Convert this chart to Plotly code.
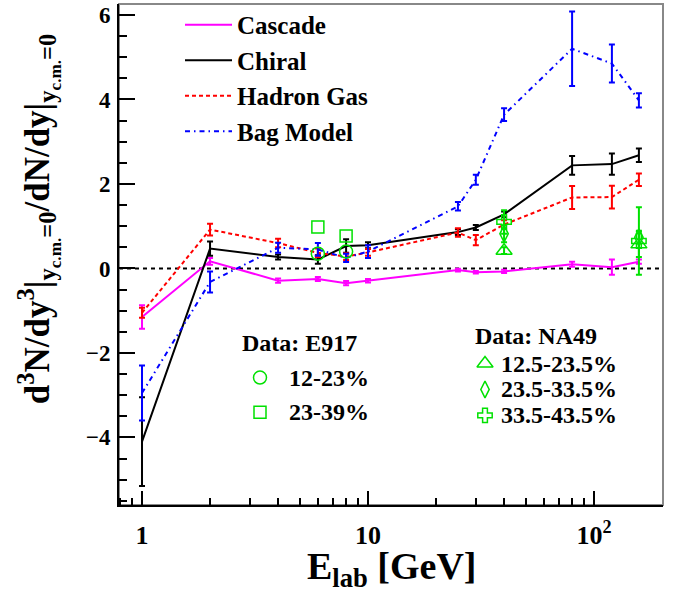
import plotly.graph_objects as go

# ---------------- data ----------------
energy = [1, 2, 4, 6, 8, 10, 25, 30, 40, 80, 120, 158]

cascade = [-1.15, 0.17, -0.29, -0.25, -0.35, -0.29, -0.04, -0.09, -0.07, 0.10, 0.03, 0.16]
cascade_err = [0.28, 0.08, 0.05, 0.05, 0.05, 0.04, 0.03, 0.03, 0.04, 0.06, 0.18, 0.05]

chiral = [-4.10, 0.47, 0.27, 0.21, 0.53, 0.55, 0.86, 0.97, 1.28, 2.44, 2.47, 2.68]
chiral_err = [1.05, 0.17, 0.06, 0.10, 0.16, 0.07, 0.07, 0.06, 0.07, 0.22, 0.25, 0.16]

hadron_gas = [-1.05, 0.92, 0.60, 0.37, 0.28, 0.38, 0.85, 0.67, 1.04, 1.68, 1.69, 2.10]
hadron_gas_err = [0.12, 0.14, 0.10, 0.10, 0.08, 0.08, 0.10, 0.12, 0.10, 0.27, 0.27, 0.15]

bag_model = [-2.95, -0.32, 0.49, 0.45, 0.25, 0.40, 1.47, 2.10, 3.64, 5.20, 4.85, 3.98]
bag_model_err = [0.65, 0.25, 0.12, 0.15, 0.10, 0.15, 0.10, 0.12, 0.15, 0.88, 0.45, 0.17]

e917_energy = [6, 8]
e917_12_23 = [0.35, 0.40]
e917_23_39 = [0.98, 0.77]

na49_energy = [40, 158]
na49_125_235 = [0.42, 0.57]
na49_125_235_err = [0.08, 0.30]
na49_235_335 = [0.82, 0.74]
na49_235_335_err = [0.20, 0.15]
na49_335_435 = [1.10, 0.65]
na49_335_435_err = [0.28, 0.80]

x_tickvals = [1, 10, 100]
x_ticktext = ["1", "10", "10<sup>2</sup>"]
x_minor = [0.8, 0.9, 2, 3, 4, 5, 6, 7, 8, 9, 20, 30, 40, 50, 60, 70, 80, 90, 200]

# ---------------- style ----------------
FONT = "Liberation Serif"
GREEN = "rgb(0,225,0)"
L, R, T, B = 119, 21, 2, 89
W, H = 684, 594
PW, PH = W - L - R, H - T - B


def px(xp):
    return (xp - L) / PW


def py(yp):
    return (H - B - yp) / PH


fig = go.Figure()

models = [
    ("Cascade", cascade, cascade_err, "#ff00ff", "solid"),
    ("Chiral", chiral, chiral_err, "#000000", "solid"),
    ("Hadron Gas", hadron_gas, hadron_gas_err, "#ff0000", "4px,3px"),
    ("Bag Model", bag_model, bag_model_err, "#0000ff", "5px,4px,1.5px,4px"),
]
for name, y, e, col, dash in models:
    fig.add_trace(go.Scatter(
        x=energy, y=y, mode="lines",
        line=dict(color=col, width=2, dash=dash),
        error_y=dict(type="data", array=e, color=col, thickness=2, width=3),
        showlegend=False, hoverinfo="skip"))
for name, y, e, col, dash in models:
    fig.add_trace(go.Scatter(
        x=[None], y=[None], mode="lines", name=name,
        line=dict(color=col, width=2, dash=dash)))

# E917 data
fig.add_trace(go.Scatter(x=e917_energy, y=e917_12_23, mode="markers", showlegend=False,
                         marker=dict(symbol="circle-open", size=13, color=GREEN, line=dict(width=1.5, color=GREEN))))
fig.add_trace(go.Scatter(x=e917_energy, y=e917_23_39, mode="markers", showlegend=False,
                         marker=dict(symbol="square-open", size=12, color=GREEN, line=dict(width=1.5, color=GREEN))))

# NA49 data
for yv, ev, sym, sz in [(na49_125_235, na49_125_235_err, "triangle-up-open", 14),
                        (na49_235_335, na49_235_335_err, "diamond-tall-open", 12),
                        (na49_335_435, na49_335_435_err, "cross-open", 12)]:
    fig.add_trace(go.Scatter(x=na49_energy, y=yv, mode="markers", showlegend=False,
                             error_y=dict(type="data", array=ev, color=GREEN, thickness=2, width=3),
                             marker=dict(symbol=sym, size=sz, color=GREEN, line=dict(width=1.5, color=GREEN))))

# marker keys for data annotations (overlay axes in plot-fraction units)
key_x = [px(260), px(260), px(485), px(485), px(485)]
key_y = [py(377), py(412), py(363), py(389), py(415)]
key_sym = ["circle-open", "square-open", "triangle-up-open", "diamond-tall-open", "cross-open"]
key_size = [13, 12, 14, 12, 12]
for kx, ky, ks, kz in zip(key_x, key_y, key_sym, key_size):
    fig.add_trace(go.Scatter(x=[kx], y=[ky], xaxis="x2", yaxis="y2", mode="markers", showlegend=False,
                             marker=dict(symbol=ks, size=kz, color=GREEN, line=dict(width=1.5, color=GREEN))))

tfont = dict(family=FONT, size=24, color="black", weight="bold")
annots = [
    dict(text="Data: E917", x=px(240), y=py(342), xanchor="left"),
    dict(text="12-23%", x=px(287), y=py(377), xanchor="left"),
    dict(text="23-39%", x=px(287), y=py(412), xanchor="left"),
    dict(text="Data: NA49", x=px(473), y=py(335), xanchor="left"),
    dict(text="12.5-23.5%", x=px(499), y=py(363), xanchor="left"),
    dict(text="23.5-33.5%", x=px(499), y=py(389), xanchor="left"),
    dict(text="33.5-43.5%", x=px(499), y=py(415), xanchor="left"),
]
for a in annots:
    fig.add_annotation(xref="paper", yref="paper", yanchor="middle", showarrow=False,
                       font=tfont, **a)

# axis titles
fig.add_annotation(xref="paper", yref="paper", x=px(392), y=py(543), xanchor="center", yanchor="top",
                   showarrow=False, text="E<sub>lab</sub> [GeV]",
                   font=dict(family=FONT, size=38, color="black", weight="bold"))
fig.add_annotation(xref="paper", yref="paper", x=px(38), y=py(218), xanchor="center", yanchor="middle",
                   textangle=-90, showarrow=False,
                   text="d<sup>3</sup>N/dy<sup>3</sup>|<sub>y<sub>c.m.</sub>=0</sub>/dN/dy|<sub>y<sub>c.m.</sub>=0</sub>",
                   font=dict(family=FONT, size=35, color="black", weight="bold"))

# zero line and frame
fig.add_shape(type="line", xref="paper", yref="y", x0=0, x1=1, y0=0, y1=0,
              line=dict(color="black", width=2, dash="4px,4px"), layer="below")
fig.add_shape(type="rect", xref="paper", yref="paper", x0=0, x1=1, y0=0, y1=1,
              line=dict(color="#888888", width=2), layer="below")

fig.update_layout(
    width=W, height=H,
    margin=dict(l=L, r=R, t=T, b=B),
    paper_bgcolor="white", plot_bgcolor="white",
    font=dict(family=FONT),
    showlegend=True,
    legend=dict(x=px(180), y=1.004, xanchor="left", yanchor="top",
                font=dict(family=FONT, size=25, color="black", weight="bold"),
                bgcolor="rgba(0,0,0,0)", borderwidth=0, itemwidth=47,
                tracegroupgap=0),
    xaxis=dict(type="log", range=[-0.1018, 2.3053], showgrid=False, zeroline=False,
               showline=True, linecolor="black", linewidth=2,
               tickmode="array", tickvals=x_tickvals, ticktext=x_ticktext,
               ticks="inside", ticklen=14, tickwidth=1.5, tickcolor="black",
               ticklabelstandoff=6,
               tickfont=dict(family=FONT, size=26, color="black", weight="bold"),
               minor=dict(tickmode="array", tickvals=x_minor, ticks="inside", ticklen=7,
                          tickwidth=1.5, tickcolor="black")),
    yaxis=dict(range=[-5.60, 6.26], showgrid=False, zeroline=False,
               showline=True, linecolor="black", linewidth=2,
               tick0=0, dtick=2, ticks="inside", ticklen=16, tickwidth=1.5, tickcolor="black",
               ticklabelstandoff=2,
               tickfont=dict(family=FONT, size=23, color="black", weight="bold"),
               minor=dict(dtick=0.5, ticks="inside", ticklen=8, tickwidth=1.5, tickcolor="black")),
    xaxis2=dict(overlaying="x", range=[0, 1], visible=False),
    yaxis2=dict(overlaying="y", range=[0, 1], visible=False),
)

fig.write_html("out.html")
